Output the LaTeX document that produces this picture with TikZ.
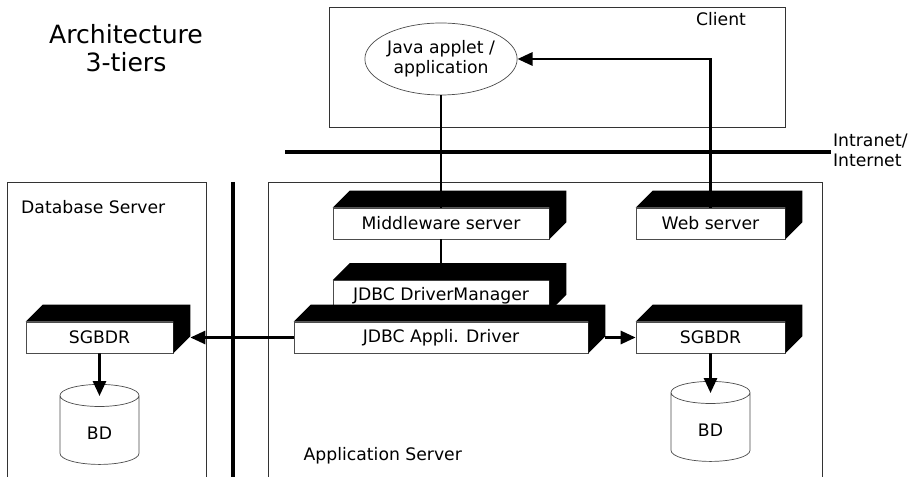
\documentclass[tikz,border=0pt]{standalone}
\usepackage{fontspec}
\setmainfont{DejaVu Sans}
\usetikzlibrary{shapes.geometric,arrows.meta}

\tikzset{
    txt/.style={font=\fontsize{9.8}{11.5}\selectfont},
    srv/.style={txt, draw=black!70, fill=white, minimum height=0.62cm, inner sep=1pt},
    link/.style={line width=1.6pt},
    arr/.style={link, -{Triangle[length=0.3cm,width=0.26cm]}},
    bd/.style={txt, cylinder, shape border rotate=90, aspect=0.6, draw=black!70, fill=white, minimum width=1.58cm, minimum height=1.6cm}
}

% 3D server box: name, position, width, text
\newcommand{\srvbox}[4]{%
    \node(#1) [srv, minimum width=#3] at #2 {#4};
    \fill (#1.north west) -- ++(0.34,0.34) -- ([shift={(0.34,0.34)}]#1.north east)
        -- ([shift={(0.34,0.34)}]#1.south east) -- (#1.south east) -- (#1.north east) -- cycle;
}

\begin{document}
\begin{tikzpicture}
        \useasboundingbox (0,0) rectangle (18.4,-9.54);

        % areas
        \draw[black!80] (6.58,-0.14) rectangle (15.7,-2.54);
        \draw[black!80] (0.14,-9.6) |- (4.12,-3.64) -- (4.12,-9.6);
        \draw[black!80] (5.36,-9.6) |- (16.44,-3.64) -- (16.44,-9.6);

        % labels
        \node(title) [align=center, font=\fontsize{14.3}{16}\selectfont] at (2.52,-0.97) {Architecture\\3-tiers};
        \node(client) [txt] at (14.42,-0.38) {Client};
        \node(dbs) [txt, anchor=west] at (0.3,-4.14) {Database Server};
        \node(aps) [txt, anchor=west] at (5.95,-9.12) {Application Server};
        \node(net) [txt, anchor=west, align=left, inner sep=1pt] at (16.62,-3.0) {Intranet/\\Internet};

        % networks
        \draw[line width=2.8pt] (5.7,-3.04) -- (net.west |- 0,-3.04);
        \draw[line width=2.3pt] (4.66,-3.64) -- (4.66,-9.6);

        % nodes
        \node(app) [txt, ellipse, draw=black!70, fill=white, minimum width=3.04cm, minimum height=1.44cm, inner sep=0pt, align=center] at (8.82,-1.18) {Java applet /\\application};
        \srvbox{mw}{(8.82,-4.47)}{4.32cm}{Middleware server}
        \srvbox{dm}{(8.82,-5.92)}{4.32cm}{JDBC DriverManager}
        \srvbox{ad}{(8.82,-6.75)}{5.88cm}{JDBC Appli. Driver}
        \srvbox{ws}{(14.21,-4.47)}{2.98cm}{Web server}
        \srvbox{sr}{(14.21,-6.75)}{2.98cm}{SGBDR}
        \srvbox{sl}{(1.99,-6.75)}{2.94cm}{SGBDR}
        \node(bdl) [bd] at (1.99,-8.66) {BD};
        \node(bdr) [bd] at (14.21,-8.6) {BD};

        % edges
        \draw[link] (app) -- (mw.north);
        \draw[link] (mw) -- (dm);
        \draw[arr] (ws.north) |- (app.east);
        \draw[arr] (ad.west) -- ([xshift=0.34cm]sl.east);
        \draw[arr] ([xshift=0.34cm]ad.east) -- (sr.west);
        \draw[arr] (sl) -- ([yshift=-0.24cm]bdl.north);
        \draw[arr] (sr) -- ([yshift=-0.24cm]bdr.north);

    \end{tikzpicture}
\end{document}
